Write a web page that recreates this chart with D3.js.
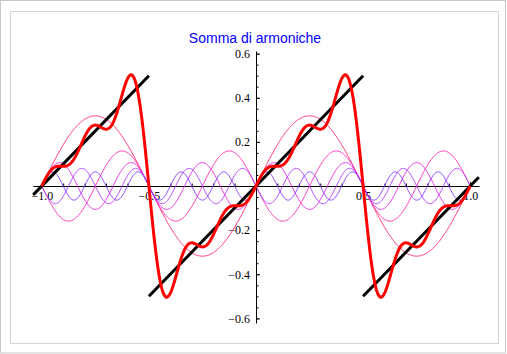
<!DOCTYPE html>
<html>
<head>
<meta charset="utf-8">
<script src="https://cdn.jsdelivr.net/npm/d3@7"></script>
<style>
  body { margin: 0; background: #fff; }
  .tick text { font-family: "Liberation Serif", "Times New Roman", serif; font-size: 12px; fill: #000; }
</style>
</head>
<body>
<div id="chart"></div>
<script>
// harmonics of the sawtooth, amplitudes
var harmonics = [1, 2, 3, 4, 5];
var amplitudes = [0.318, 0.159, 0.106, 0.080, 0.064];
var signs = [1, -1, 1, -1, 1];
var harmColors = ["#ff2a6a", "#ff2ab4", "#e82ae8", "#b23cff", "#843cff"];

// black sawtooth segments (endpoints)
var sawX = [[-1.04, -0.5], [-0.5, 0.5], [0.5, 1.04]];
var sawY = [[-0.04, 0.5], [-0.5, 0.5], [-0.5, 0.04]];

var xTicks = [-1.0, -0.5, 0.5, 1.0];
var yTicks = [-0.6, -0.4, -0.2, 0.2, 0.4, 0.6];
var title = "Somma di armoniche";

var W = 507, H = 354;

var svg = d3.select("#chart").append("svg")
  .attr("width", W)
  .attr("height", H);

// frames
svg.append("rect").attr("x", 0.5).attr("y", 0.5).attr("width", W - 2).attr("height", H - 1.5)
  .attr("fill", "#fff").attr("stroke", "#c8c8c8");
svg.append("rect").attr("x", 10.5).attr("y", 11.5).attr("width", 488).attr("height", 332)
  .attr("fill", "#fff").attr("stroke", "#d4d4d4");

var x = d3.scaleLinear().domain([-1.041, 1.041]).range([33, 479]);
var y = d3.scaleLinear().domain([0.612, -0.621]).range([51, 323]);

var fmt = function(d) { return d3.format(".1f")(d).replace("-", "\u2212"); };

// minor ticks
svg.append("g")
  .attr("transform", "translate(0," + y(0) + ")")
  .call(d3.axisBottom(x).tickValues(d3.range(-10, 11).map(function(i){ return i / 10; }))
    .tickSizeInner(-2.5).tickSizeOuter(0).tickFormat(""))
  .call(function(g){ g.select(".domain").remove(); });
svg.append("g")
  .attr("transform", "translate(" + x(0) + ",0)")
  .call(d3.axisLeft(y).tickValues(d3.range(-12, 13).map(function(i){ return i * 0.05; }))
    .tickSizeInner(-2.5).tickSizeOuter(0).tickFormat(""))
  .call(function(g){ g.select(".domain").remove(); });

// main axes
var xAxis = svg.append("g")
  .attr("transform", "translate(0," + y(0) + ")")
  .call(d3.axisBottom(x).tickValues(xTicks).tickSizeInner(-4).tickSizeOuter(0)
    .tickPadding(5).tickFormat(fmt));
var yAxis = svg.append("g")
  .attr("transform", "translate(" + x(0) + ",0)")
  .call(d3.axisLeft(y).tickValues(yTicks).tickSizeInner(-4).tickSizeOuter(0)
    .tickPadding(6).tickFormat(fmt));
svg.selectAll(".domain").attr("stroke", "#000");
svg.selectAll(".tick line").attr("stroke", "#000");

// curves
var line = d3.line()
  .x(function(d){ return x(d[0]); })
  .y(function(d){ return y(d[1]); });

var xs = d3.range(-1, 1.0005, 0.002);

harmonics.forEach(function(n, i) {
  var pts = xs.map(function(t) {
    return [t, signs[i] * amplitudes[i] * Math.sin(2 * Math.PI * n * t)];
  });
  svg.append("path")
    .datum(pts)
    .attr("fill", "none")
    .attr("stroke", harmColors[i])
    .attr("stroke-width", 1)
    .attr("d", line);
});

// sawtooth
sawX.forEach(function(sx, i) {
  svg.append("path")
    .datum([[sx[0], sawY[i][0]], [sx[1], sawY[i][1]]])
    .attr("fill", "none")
    .attr("stroke", "#000")
    .attr("stroke-width", 3)
    .attr("d", line);
});

// sum of harmonics
var sumPts = xs.map(function(t) {
  var s = 0;
  harmonics.forEach(function(n, i) {
    s += signs[i] * amplitudes[i] * Math.sin(2 * Math.PI * n * t);
  });
  return [t, s];
});
svg.append("path")
  .datum(sumPts)
  .attr("fill", "none")
  .attr("stroke", "#ff0000")
  .attr("stroke-width", 3)
  .attr("d", line);

// title
svg.append("text")
  .attr("x", 255)
  .attr("y", 43)
  .attr("text-anchor", "middle")
  .style("font-family", "'Liberation Sans', Arial, sans-serif")
  .style("font-size", "14px")
  .attr("fill", "#0000ff")
  .text(title);
</script>
</body>
</html>
